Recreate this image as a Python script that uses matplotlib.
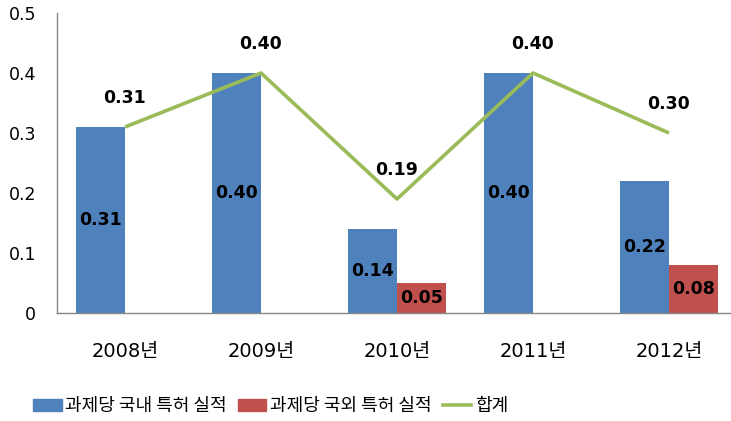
import matplotlib
matplotlib.use("Agg")
import matplotlib.pyplot as plt
from matplotlib.patches import Patch
from matplotlib.lines import Line2D
import numpy as np

# 숫자는 DejaVu, 한글은 Noto CJK KR
plt.rcParams['font.family'] = ['DejaVu Sans', 'Noto Sans CJK KR']

# 데이터
years = ["2008년", "2009년", "2010년", "2011년", "2012년"]
domestic = [0.31, 0.40, 0.14, 0.40, 0.22]
foreign = [0, 0, 0.05, 0, 0.08]
total = [0.31, 0.40, 0.19, 0.40, 0.30]
series_names = ["과제당 국내 특허 실적", "과제당 국외 특허 실적", "합계"]

blue = "#4F81BD"
red = "#C0504D"
green = "#9BBB59"

fig = plt.figure(figsize=(7.31, 4.21), dpi=100)
ax = fig.add_axes([57/731, 108/421, 680/731, 300/421])

x = np.arange(len(years))
w = 0.36

ax.bar(x - w/2, domestic, width=w, color=blue)
ax.bar(x + w/2, foreign, width=w, color=red)
ax.plot(x, total, color=green, linewidth=2.6, solid_capstyle="butt")

# 막대 라벨
for xi, v in zip(x, domestic):
    if v > 0:
        ax.text(xi - w/2, v/2, f"{v:.2f}", ha="center", va="center",
                fontsize=12.5, fontweight="bold", color="black")
for xi, v in zip(x, foreign):
    if v > 0:
        ax.text(xi + w/2, v/2, f"{v:.2f}", ha="center", va="center",
                fontsize=12.5, fontweight="bold", color="black")
# 합계 라벨
for xi, v in zip(x, total):
    ax.annotate(f"{v:.2f}", (xi, v), xytext=(0, 21), textcoords="offset points",
                ha="center", va="center", fontsize=12.5, fontweight="bold")

ax.set_xlim(-0.5, len(years) - 0.5)
ax.set_ylim(0, 0.5)
ax.set_yticks([0, 0.1, 0.2, 0.3, 0.4, 0.5])
ax.set_yticklabels(["0", "0.1", "0.2", "0.3", "0.4", "0.5"])
ax.set_xticks(x)
ax.set_xticklabels(years)
ax.tick_params(axis="y", length=0, pad=15, labelsize=12.5)
ax.tick_params(axis="x", length=0, pad=21, labelsize=14)

for s in ["top", "right"]:
    ax.spines[s].set_visible(False)
for s in ["left", "bottom"]:
    ax.spines[s].set_color("#868686")
    ax.spines[s].set_linewidth(1)

handles = [Patch(color=blue), Patch(color=red), Line2D([0], [0], color=green, linewidth=2.6)]
fig.legend(handles, series_names, loc="center", bbox_to_anchor=(0.37, 0.035),
           ncol=3, frameon=False, handlelength=1.6, handleheight=0.6,
           handletextpad=0.2, columnspacing=0.6,
           prop={"family": ["Noto Sans CJK KR", "DejaVu Sans"], "size": 13})

fig.savefig("out.png", dpi=100)
